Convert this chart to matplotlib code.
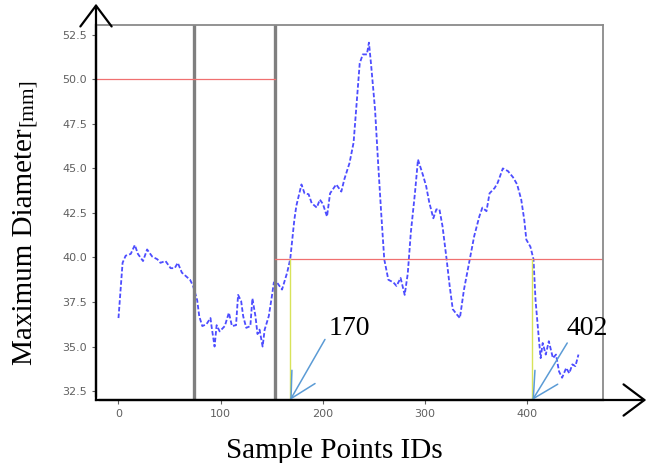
import matplotlib
matplotlib.use('Agg')
import matplotlib.pyplot as plt
from matplotlib.patches import FancyArrowPatch

# sample point ids and max diameter
ids = [0, 4, 7, 12, 16, 19, 24, 28, 33,
       38, 41, 46, 51, 55, 58, 62, 67, 70, 73,
       77, 79, 82, 86, 90, 91, 94, 96, 99, 104,
       108, 111, 115, 117, 120, 122, 125, 129, 131, 134,
       136, 138, 141, 143, 147, 150, 152, 155, 160, 165,
       168, 172, 174, 179, 182, 186, 189, 194, 197, 200,
       204, 207, 213, 218, 221, 226, 230, 233, 236, 239,
       243, 245, 247, 251, 254, 257, 260, 264, 269, 272,
       276, 280, 283, 286, 290, 293, 298, 301, 304, 308,
       311, 314, 317, 321, 324, 327, 331, 334, 338, 343,
       348, 353, 356, 360, 363, 368, 371, 376, 381, 386,
       390, 394, 397, 399, 403, 406, 408, 411, 413, 415,
       418, 421, 425, 428, 431, 434, 438, 441, 444, 447,
       450]
diam = [36.6, 39.7, 40.1, 40.2, 40.7, 40.2, 39.8, 40.45, 40.05,
        39.9, 39.7, 39.8, 39.4, 39.4, 39.7, 39.15, 38.9, 38.75, 38.4,
        37.6, 36.7, 36.15, 36.25, 36.6, 36.15, 35.0, 36.2, 35.85, 36.15,
        36.9, 36.15, 36.2, 37.9, 37.55, 36.7, 36.05, 36.15, 37.7, 36.7,
        35.7, 35.95, 35.0, 35.95, 36.7, 37.8, 38.6, 38.6, 38.2, 39.15,
        39.9, 42.1, 42.9, 44.1, 43.6, 43.55, 43.05, 42.8, 43.25, 43.0,
        42.3, 43.6, 44.1, 43.7, 44.4, 45.3, 46.45, 48.7, 50.9, 51.4,
        51.4, 52.06, 50.9, 48.3, 45.3, 42.5, 39.9, 38.75, 38.6, 38.4,
        38.85, 37.9, 39.1, 41.4, 43.6, 45.5, 44.6, 44.0, 43.1, 42.2,
        42.7, 42.7, 41.75, 39.9, 38.4, 37.1, 36.8, 36.6, 38.2, 39.7,
        41.2, 42.3, 42.8, 42.6, 43.6, 43.9, 44.2, 45.0, 44.85, 44.5,
        44.1, 43.25, 42.1, 41.0, 40.6, 39.9, 37.6, 35.6, 34.35, 35.2,
        34.55, 35.3, 34.35, 34.55, 33.6, 33.25, 33.8, 33.5, 34.0, 33.9,
        34.55]

sections = [74, 153.5]          # gray separators
thresholds = [50.0, 39.9]      # red limit per region
crossings = [168, 405]
crossing_labels = ['170', '402']
arrow_tails = [(202, 35.4), (439, 35.2)]
label_pos = [(226, 36.0), (459, 36.0)]

xlo, xhi = -22, 474
ylo, yhi = 32.0, 53.05

fig = plt.figure(figsize=(6.51, 4.63), dpi=100)
ax = fig.add_axes([96/651, 63/463, 507/651, 375/463])

ax.plot(ids, diam, color='#2020ff', ls='--', lw=1.3, dashes=(2.5, 1.2), alpha=0.8)

for s in sections:
    ax.axvline(s, color='#7f7f7f', lw=2.4)

ax.plot([xlo, sections[1]], [thresholds[0]] * 2, color='#f07070', lw=0.9)
ax.plot([sections[1], xhi], [thresholds[1]] * 2, color='#f07070', lw=0.9)

for c in crossings:
    ax.plot([c, c], [ylo, thresholds[1]], color='#d8e35a', lw=1.0)

for c, lab, tail, pos in zip(crossings, crossing_labels, arrow_tails, label_pos):
    ax.annotate('', xy=(c, ylo), xytext=tail,
                arrowprops=dict(arrowstyle='->,head_length=0.75,head_width=0.4',
                                color='#5b9bd5', lw=1.1, mutation_scale=24,
                                shrinkA=0, shrinkB=0))
    ax.text(pos[0], pos[1], lab, ha='center', va='center', fontsize=20,
            family='Liberation Serif', clip_on=False)

ax.set_xlim(xlo, xhi)
ax.set_ylim(ylo, yhi)
ax.set_xticks([0, 100, 200, 300, 400])
ax.set_yticks([32.5, 35.0, 37.5, 40.0, 42.5, 45.0, 47.5, 50.0, 52.5])
ax.yaxis.set_major_formatter(matplotlib.ticker.FormatStrFormatter('%.1f'))
ax.tick_params(labelsize=8, colors='#606060', length=3, width=0.8)

for side in ['top', 'right']:
    ax.spines[side].set_color('#8a8a8a')
    ax.spines[side].set_linewidth(1.3)
for side in ['left', 'bottom']:
    ax.spines[side].set_color('black')
    ax.spines[side].set_linewidth(1.6)

# axis arrows pasted over the plot
x0, y0 = 96/651, 63/463
fig.add_artist(FancyArrowPatch((x0, y0), (x0, 462/463), transform=fig.transFigure,
                               arrowstyle='->,head_length=0.6,head_width=0.45',
                               mutation_scale=25, lw=1.6, color='black'))
fig.add_artist(FancyArrowPatch((x0, y0), (649/651, y0), transform=fig.transFigure,
                               arrowstyle='->,head_length=0.6,head_width=0.45',
                               mutation_scale=25, lw=1.6, color='black'))

fig.text(334/651, 5/463, 'Sample Points IDs', ha='center', va='baseline',
         fontsize=21, family='Liberation Serif')
t1 = fig.text(32/651, 98/463, 'Maximum Diameter', rotation=90, rotation_mode='anchor',
              ha='left', va='baseline', fontsize=21, family='Liberation Serif')
fig.canvas.draw()
bb = t1.get_window_extent()
fig.text(32/651, (bb.y1 + 3) / fig.bbox.height, '[mm]', rotation=90, rotation_mode='anchor',
         ha='left', va='baseline', fontsize=15.5, family='Liberation Serif')

fig.savefig('out.png', dpi=100)
